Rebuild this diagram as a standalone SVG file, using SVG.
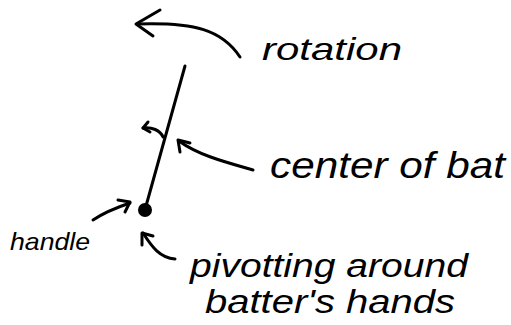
<svg xmlns="http://www.w3.org/2000/svg" width="511" height="325" viewBox="0 0 511 325">
<style>
.s{fill:none;stroke:#000;stroke-width:3;stroke-linecap:round;stroke-linejoin:round}
.t{font-family:"Liberation Sans",Arial,sans-serif;font-style:italic;fill:#000}
</style>
<rect width="511" height="325" fill="#fff"/>
<g id="bat">
<path class="s" d="M185,66 L146,206"/>
<circle cx="145" cy="210" r="7" fill="#000"/>
</g>
<g id="rotation">
<text class="t" x="262" y="60" font-size="32" textLength="140" lengthAdjust="spacingAndGlyphs">rotation</text>
</g>
<g id="center">
<text class="t" x="270" y="178" font-size="36" textLength="235" lengthAdjust="spacingAndGlyphs">center of bat</text>
</g>
<g id="handle">
<text class="t" x="10" y="250" font-size="24" textLength="80" lengthAdjust="spacingAndGlyphs">handle</text>
</g>
<g id="pivot">
<text class="t" x="190" y="277" font-size="34" textLength="278" lengthAdjust="spacingAndGlyphs">pivotting around</text>
<text class="t" x="205" y="313" font-size="34" textLength="250" lengthAdjust="spacingAndGlyphs">batter's hands</text>
</g>
<g id="connectors">
<path class="s" d="M240,57 C222,30 195,22 137,24"/>
<path class="s" d="M160,10 L136,24 L153,36"/>
<path class="s" d="M163,137 C160,130 152,127 143,128"/>
<path class="s" d="M148,122 L143,128 L150,132"/>
<path class="s" d="M253,170 C225,162 198,155 179,141"/>
<path class="s" d="M180,152 L178,140 L190,143"/>
<path class="s" d="M93,220 C105,212 118,207 130,203"/>
<path class="s" d="M118,200 L130,202 L125,212"/>
<path class="s" d="M175,259 C160,258 152,247 143,233"/>
<path class="s" d="M142,245 L142,233 L153,236"/>
</g>
</svg>
